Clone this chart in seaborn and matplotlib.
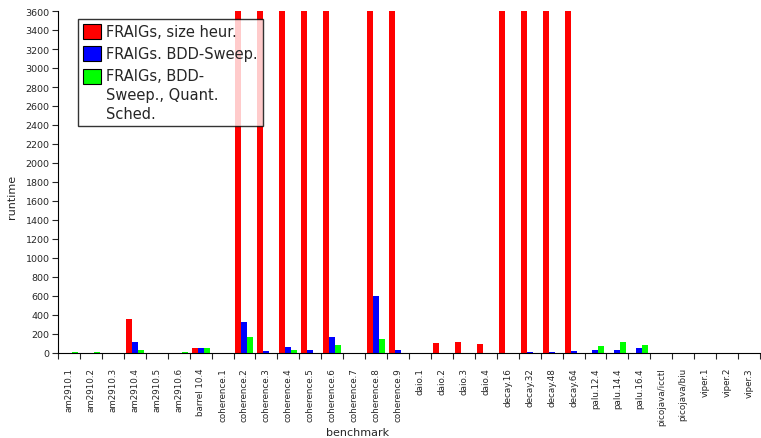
import numpy as np
import pandas as pd
import seaborn as sns
import matplotlib
matplotlib.use("Agg")
import matplotlib.pyplot as plt
from matplotlib.patches import Rectangle
from matplotlib.legend_handler import HandlerPatch
from matplotlib.ticker import FixedLocator, MultipleLocator

# benchmark names (x categories)
benchmarks = ["am2910.1", "am2910.2", "am2910.3", "am2910.4", "am2910.5", "am2910.6",
              "barrel 10.4",
              "coherence.1", "coherence.2", "coherence.3", "coherence.4", "coherence.5",
              "coherence.6", "coherence.7", "coherence.8", "coherence.9",
              "daio.1", "daio.2", "daio.3", "daio.4",
              "decay.16", "decay.32", "decay.48", "decay.64",
              "palu.12.4", "palu.14.4", "palu.16.4",
              "picojava/icctl", "picojava/biu",
              "viper.1", "viper.2", "viper.3"]

series_names = ["FRAIGs, size heur.", "FRAIGs. BDD-Sweep.",
                "FRAIGs, BDD-\nSweep., Quant.\nSched."]

# runtimes (3600 = timeout, clipped at top)
size_heur = [4, 4, 2, 360, 2, 4, 50, 3, 3600, 3600, 3600, 3600,
             3600, 3, 3600, 3600, 3, 102, 115, 91,
             3600, 3600, 3600, 3600, 2, 2, 2, 3, 3, 2, 2, 2]
bdd_sweep = [4, 4, 2, 113, 4, 4, 50, 3, 330, 18, 66, 35,
             168, 3, 603, 28, 3, 2, 2, 2,
             3, 12, 12, 21, 32, 35, 56, 3, 3, 2, 2, 2]
quant_sched = [6, 6, 2, 35, 2, 6, 55, 3, 168, 5, 35, 2,
               84, 3, 147, 4, 3, 2, 2, 2,
               4, 3, 3, 3, 70, 112, 84, 3, 5, 2, 5, 2]

df = pd.DataFrame({
    "benchmark": benchmarks * 3,
    "runtime": size_heur + bdd_sweep + quant_sched,
    "config": [series_names[0]] * len(benchmarks)
              + [series_names[1]] * len(benchmarks)
              + [series_names[2]] * len(benchmarks),
})

sns.set_style("ticks")
plt.rcParams["font.family"] = ["DejaVu Sans"]

fig = plt.figure(figsize=(7.61, 4.39), dpi=100)
ax = fig.add_axes([58 / 761, 1 - 354 / 439, 702 / 761, 342 / 439])

sns.barplot(data=df, x="benchmark", y="runtime", hue="config",
            palette=["#ff0000", "#0000ff", "#00ff00"], saturation=1,
            width=0.82, errorbar=None, ax=ax, linewidth=0)

ax.set_xlim(-0.5, len(benchmarks) - 0.5)
ax.set_ylim(0, 3600)
ax.yaxis.set_major_locator(MultipleLocator(200))
ax.tick_params(axis="y", labelsize=6.8, length=4, width=0.8, pad=2)

# labels at category centres, tick marks at category boundaries
ax.set_xticks(range(len(benchmarks)))
ax.set_xticklabels(benchmarks, rotation=90, fontsize=6.3)
ax.tick_params(axis="x", which="major", length=0, pad=10)
ax.xaxis.set_minor_locator(FixedLocator(np.arange(-0.5, len(benchmarks), 1.0)))
ax.tick_params(axis="x", which="minor", length=4, width=0.8)

for side in ["top", "right"]:
    ax.spines[side].set_visible(False)
for side in ["left", "bottom"]:
    ax.spines[side].set_linewidth(0.8)
    ax.spines[side].set_color("black")

ax.set_xlabel("benchmark", fontsize=8, va="center")
ax.xaxis.set_label_coords((358 - 58) / 702, (354 - 433) / 342)
ax.set_ylabel("runtime", fontsize=8, va="center")
ax.yaxis.set_label_coords((12 - 58) / 702, (354 - 197) / 342)


# legend square for the wrapped label sits beside its first line
def top_square(legend, orig_handle, xdescent, ydescent, width, height, fontsize):
    return Rectangle((-xdescent, -ydescent + 13.5), width, height)


handles, labels = ax.get_legend_handles_labels()
leg = ax.legend(handles, labels, loc="upper left", bbox_to_anchor=(0.0285, 0.977),
                borderaxespad=0, fontsize=10.5, frameon=True, fancybox=False,
                edgecolor="black", handlelength=1.2, handleheight=1.2,
                handletextpad=0.4, labelspacing=0.45, borderpad=0.35,
                handler_map={handles[2]: HandlerPatch(patch_func=top_square)})
leg.get_frame().set_linewidth(1.0)
for t in leg.get_texts():
    t.set_linespacing(1.35)
for h in leg.legend_handles:
    h.set_edgecolor("black")
    h.set_linewidth(0.8)

fig.savefig("out.png", dpi=100)
